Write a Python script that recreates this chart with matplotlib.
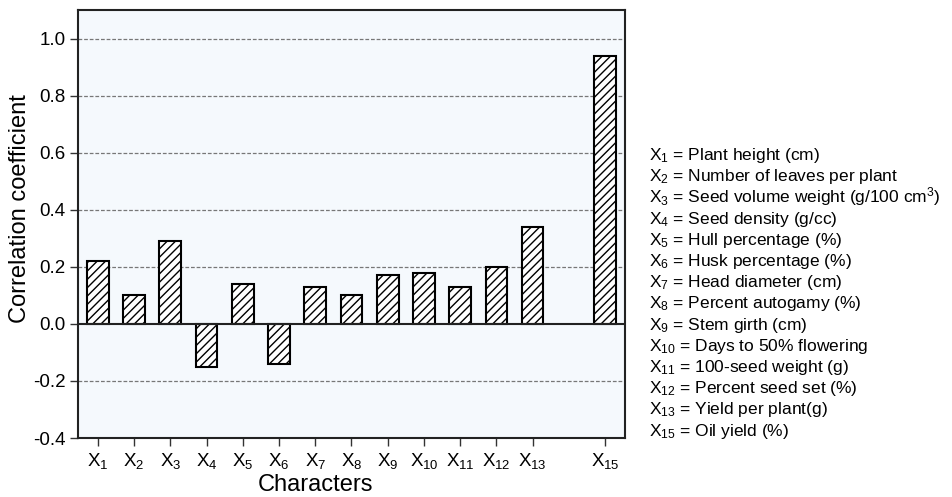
import matplotlib
matplotlib.use("Agg")
import matplotlib.pyplot as plt

plt.rcParams['font.family'] = ['Liberation Sans', 'DejaVu Sans']
plt.rcParams['mathtext.fontset'] = 'custom'
plt.rcParams['mathtext.rm'] = 'Liberation Sans'
plt.rcParams['mathtext.it'] = 'Liberation Sans'
plt.rcParams['hatch.linewidth'] = 1.0

positions = [1, 2, 3, 4, 5, 6, 7, 8, 9, 10, 11, 12, 13, 15]
tick_labels = ["X$_{1}$", "X$_{2}$", "X$_{3}$", "X$_{4}$", "X$_{5}$", "X$_{6}$", "X$_{7}$",
               "X$_{8}$", "X$_{9}$", "X$_{10}$", "X$_{11}$", "X$_{12}$", "X$_{13}$", "X$_{15}$"]
values = [0.22, 0.10, 0.29, -0.15, 0.14, -0.14, 0.13, 0.10, 0.17, 0.18, 0.13, 0.20, 0.34, 0.94]
legend_lines = [
    "X$_{1}$ = Plant height (cm)",
    "X$_{2}$ = Number of leaves per plant",
    "X$_{3}$ = Seed volume weight (g/100 cm$^{3}$)",
    "X$_{4}$ = Seed density (g/cc)",
    "X$_{5}$ = Hull percentage (%)",
    "X$_{6}$ = Husk percentage (%)",
    "X$_{7}$ = Head diameter (cm)",
    "X$_{8}$ = Percent autogamy (%)",
    "X$_{9}$ = Stem girth (cm)",
    "X$_{10}$ = Days to 50% flowering",
    "X$_{11}$ = 100-seed weight (g)",
    "X$_{12}$ = Percent seed set (%)",
    "X$_{13}$ = Yield per plant(g)",
    "X$_{15}$ = Oil yield (%)",
]
yticks = [-0.4, -0.2, 0.0, 0.2, 0.4, 0.6, 0.8, 1.0]
ytick_labels = ["-0.4", "-0.2", "0.0", "0.2", "0.4", "0.6", "0.8", "1.0"]

fig = plt.figure(figsize=(9.53, 4.97), dpi=100)
ax = fig.add_axes([0.0818, 0.1187, 0.5740, 0.8612])
ax.set_facecolor('#f5f9fd')

for y in yticks:
    if y != 0.0 and y != -0.4:
        ax.axhline(y, color='#777777', linestyle=(0, (3, 1.5)), linewidth=0.9, zorder=1)
ax.axhline(0.0, color='#222222', linewidth=1.5, zorder=3)

ax.bar(positions, values, width=0.6, facecolor='white', edgecolor='black',
       hatch='////', linewidth=1.5, zorder=2)

ax.set_xlim(0.45, 15.55)
ax.set_ylim(-0.4, 1.1)
ax.set_xticks(positions)
ax.set_xticklabels(tick_labels, fontsize=13.5)
ax.set_yticks(yticks)
ax.set_yticklabels(ytick_labels, fontsize=13.5)
ax.tick_params(axis='both', direction='out', length=6, width=1, color='#333333', pad=3)
for s in ax.spines.values():
    s.set_linewidth(1.5)
    s.set_color('#222222')

ax.set_ylabel("Correlation coefficient", fontsize=17)
ax.yaxis.set_label_coords(-0.086, 0.537)
ax.set_xlabel("Characters", fontsize=17)
ax.xaxis.set_label_coords(0.435, -0.083)

y0 = 1 - 160 / 497
dy = 21.2 / 497
for i, t in enumerate(legend_lines):
    fig.text(649 / 953, y0 - i * dy, t, fontsize=12.5, va='baseline', ha='left')

fig.savefig("out.png", dpi=100)
